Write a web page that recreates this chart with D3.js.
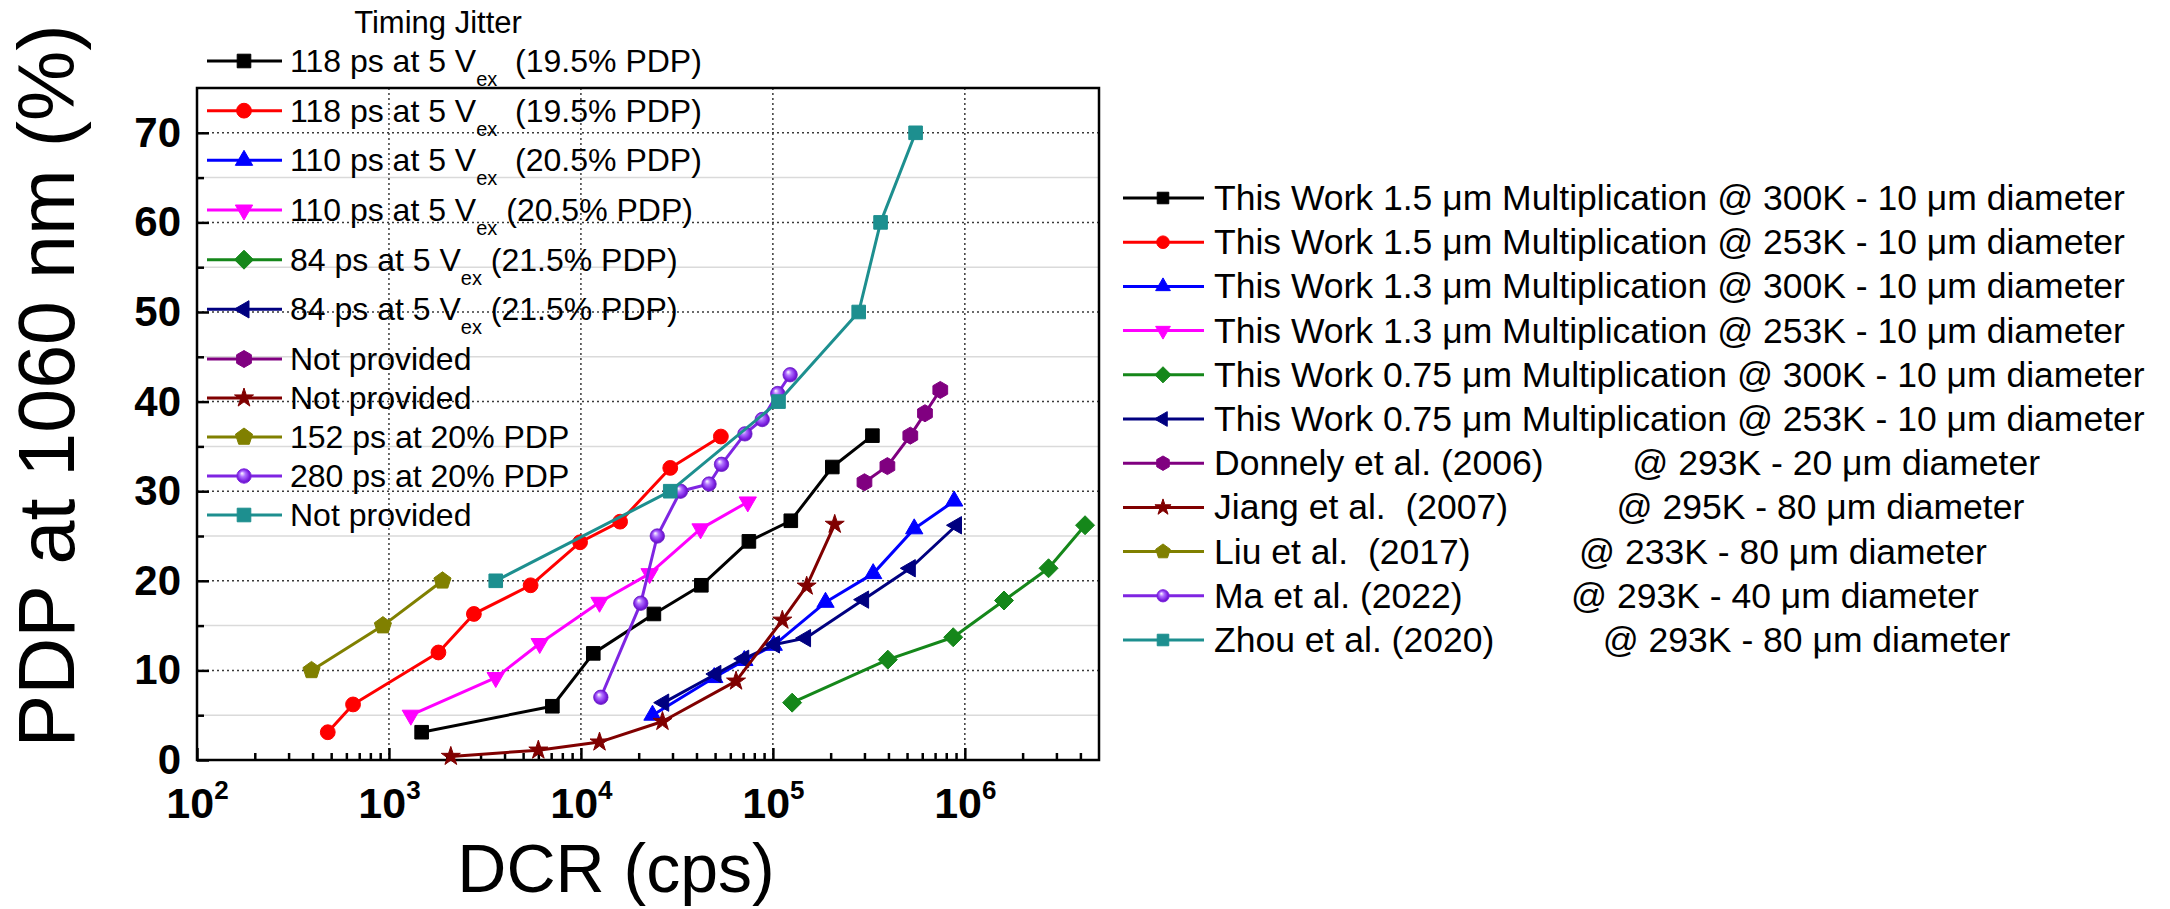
<!DOCTYPE html>
<html>
<head>
<meta charset="utf-8">
<script src="https://cdn.jsdelivr.net/npm/d3@7"></script>
<style>
  html, body { margin: 0; padding: 0; background: #fff; }
  svg { display: block; font-family: "Liberation Sans", Arial, Helvetica, sans-serif; }
  text { white-space: pre; }
</style>
</head>
<body>
<svg id="chart" width="2170" height="909"></svg>
<script>
// ---- Data: [DCR (cps), PDP at 1060 nm (%)] ----
const work15_300K = [[1480, 3.1], [7100, 6.0], [11600, 11.9], [24000, 16.3], [42400, 19.5], [75000, 24.4], [124000, 26.7], [204000, 32.7], [330000, 36.2]];
const work15_253K = [[480, 3.1], [650, 6.2], [1810, 12.0], [2770, 16.3], [5470, 19.5], [9900, 24.3], [16000, 26.6], [29200, 32.6], [53600, 36.1]];
const work13_300K = [[23600, 5.0], [49500, 9.2], [71000, 11.1], [101000, 12.8], [188000, 17.6], [333000, 20.8], [545000, 25.8], [880000, 28.9]];
const work13_253K = [[1300, 5.0], [3600, 9.2], [6100, 13.0], [12500, 17.6], [22800, 20.8], [42000, 25.8], [74000, 28.8]];
const work075_300K = [[126000, 6.4], [397000, 11.2], [870000, 13.7], [1600000, 17.8], [2730000, 21.4], [4230000, 26.2]];
const work075_253K = [[27000, 6.4], [50500, 9.6], [70500, 11.3], [102000, 12.9], [148000, 13.6], [297000, 17.9], [520000, 21.4], [905000, 26.2]];
const donnely2006 = [[300000, 31.0], [395000, 32.8], [520000, 36.2], [620000, 38.7], [745000, 41.3]];
const jiang2007 = [[2100, 0.4], [6000, 1.1], [12500, 2.0], [26600, 4.3], [64300, 8.8], [112000, 15.6], [150000, 19.4], [210000, 26.3]];
const liu2017 = [[395, 10.0], [930, 15.0], [1900, 20.0]];
const ma2022 = [[12700, 7.0], [20500, 17.5], [25000, 25.0], [33000, 30.0], [46500, 30.8], [54000, 33.0], [71500, 36.4], [88000, 38.0], [106000, 40.9], [123000, 43.0]];
const zhou2020 = [[3600, 20.0], [29200, 30.0], [107000, 40.0], [280000, 50.0], [364000, 60.0], [554000, 70.0]];

// Device / reference names (right-hand legend)
const deviceNames = [
  "This Work 1.5 \u03bcm Multiplication @ 300K - 10 \u03bcm diameter",
  "This Work 1.5 \u03bcm Multiplication @ 253K - 10 \u03bcm diameter",
  "This Work 1.3 \u03bcm Multiplication @ 300K - 10 \u03bcm diameter",
  "This Work 1.3 \u03bcm Multiplication @ 253K - 10 \u03bcm diameter",
  "This Work 0.75 \u03bcm Multiplication @ 300K - 10 \u03bcm diameter",
  "This Work 0.75 \u03bcm Multiplication @ 253K - 10 \u03bcm diameter",
  "Donnely et al. (2006)         @ 293K - 20 \u03bcm diameter",
  "Jiang et al.  (2007)           @ 295K - 80 \u03bcm diameter",
  "Liu et al.  (2017)           @ 233K - 80 \u03bcm diameter",
  "Ma et al. (2022)           @ 293K - 40 \u03bcm diameter",
  "Zhou et al. (2020)           @ 293K - 80 \u03bcm diameter"
];

// Timing jitter labels (left legend); [text, subscript, text after subscript]
const jitterLabels = [
  ["118 ps at 5 V", "ex", "  (19.5% PDP)"],
  ["118 ps at 5 V", "ex", "  (19.5% PDP)"],
  ["110 ps at 5 V", "ex", "  (20.5% PDP)"],
  ["110 ps at 5 V", "ex", " (20.5% PDP)"],
  ["84 ps at 5 V", "ex", " (21.5% PDP)"],
  ["84 ps at 5 V", "ex", " (21.5% PDP)"],
  ["Not provided"],
  ["Not provided"],
  ["152 ps at 20% PDP"],
  ["280 ps at 20% PDP"],
  ["Not provided"]
];

const xTickValues = [1e2, 1e3, 1e4, 1e5, 1e6];
const yTickValues = [0, 10, 20, 30, 40, 50, 60, 70];
const yMinorValues = [5, 15, 25, 35, 45, 55, 65];

// ---- Styles ----
const seriesData = [work15_300K, work15_253K, work13_300K, work13_253K, work075_300K, work075_253K,
                    donnely2006, jiang2007, liu2017, ma2022, zhou2020];
const seriesColors = ["#000000", "#ff0000", "#0000ff", "#ff00ff", "#15871a", "#000080",
                      "#800080", "#800000", "#808000", "#7f25e2", "#1d8f8f"];
const seriesMarkers = ["square", "circle", "triUp", "triDown", "diamond", "triLeft",
                       "hexagon", "star", "pentagon", "ball", "square"];

const svg = d3.select("#chart");
const W = 2170, H = 909;
svg.append("rect").attr("width", W).attr("height", H).attr("fill", "#fff");

const defs = svg.append("defs");
const grad = defs.append("radialGradient").attr("id", "ballGrad")
  .attr("cx", "50%").attr("cy", "50%").attr("r", "55%").attr("fx", "35%").attr("fy", "30%");
grad.append("stop").attr("offset", "0%").attr("stop-color", "#ffffff");
grad.append("stop").attr("offset", "35%").attr("stop-color", "#b070ff");
grad.append("stop").attr("offset", "75%").attr("stop-color", "#7a1fe0");
grad.append("stop").attr("offset", "100%").attr("stop-color", "#5a10b0");

const pL = 197, pR = 1099, pT = 88, pB = 760;
const x = d3.scaleLog().domain([1e2, 5e6]).range([pL, pR]);
const y = d3.scaleLinear().domain([0, 75]).range([pB, pT]);

// ---- Grid ----
const grid = svg.append("g");
grid.selectAll("line.minor").data(yMinorValues).join("line")
  .attr("x1", pL).attr("x2", pR).attr("y1", d => y(d)).attr("y2", d => y(d))
  .attr("stroke", "#dadada").attr("stroke-width", 1.5);
grid.selectAll("line.hmaj").data(yTickValues.filter(d => d > 0)).join("line")
  .attr("x1", pL).attr("x2", pR).attr("y1", d => y(d)).attr("y2", d => y(d))
  .attr("stroke", "#3a3a3a").attr("stroke-width", 1.5).attr("stroke-dasharray", "2,3");
grid.selectAll("line.vmaj").data(xTickValues.filter(d => d > 1e2)).join("line")
  .attr("x1", d => x(d)).attr("x2", d => x(d)).attr("y1", pT).attr("y2", pB)
  .attr("stroke", "#3a3a3a").attr("stroke-width", 1.5).attr("stroke-dasharray", "2,3");

// ---- Axes (ticks point inward) ----
const xMinor = [];
for (let e = 2; e <= 6; e++) for (let m = 2; m <= 9; m++) {
  const v = m * Math.pow(10, e);
  if (v < 5e6) xMinor.push(v);
}

const yAxisG = svg.append("g").attr("transform", `translate(${pL},0)`)
  .call(d3.axisLeft(y).tickValues(yTickValues).tickSizeInner(-12).tickSizeOuter(0)
        .tickPadding(16).tickFormat(d3.format("d")));
yAxisG.select(".domain").remove();
yAxisG.selectAll(".tick line").attr("stroke", "#000").attr("stroke-width", 2.5);
yAxisG.selectAll(".tick text").attr("font-size", 42).attr("font-weight", "bold").attr("fill", "#000")
  .attr("font-family", "'Liberation Sans', Arial, sans-serif");

const yMinorG = svg.append("g").attr("transform", `translate(${pL},0)`)
  .call(d3.axisLeft(y).tickValues(yMinorValues).tickSizeInner(-7).tickSizeOuter(0).tickFormat(""));
yMinorG.select(".domain").remove();
yMinorG.selectAll(".tick line").attr("stroke", "#000").attr("stroke-width", 2.5);

const xAxisG = svg.append("g").attr("transform", `translate(0,${pB})`)
  .call(d3.axisBottom(x).tickValues(xTickValues).tickSizeInner(-12).tickSizeOuter(0).tickPadding(27));
xAxisG.select(".domain").remove();
xAxisG.selectAll(".tick line").attr("stroke", "#000").attr("stroke-width", 2.5);
xAxisG.selectAll(".tick text")
  .attr("font-size", 43).attr("font-weight", "bold").attr("fill", "#000")
  .attr("font-family", "'Liberation Sans', Arial, sans-serif")
  .each(function (d) {
    const t = d3.select(this);
    t.text(null);
    t.append("tspan").text("10");
    t.append("tspan").attr("dy", -19).attr("font-size", 26).text(String(Math.round(Math.log10(d))));
  });

const xMinorG = svg.append("g").attr("transform", `translate(0,${pB})`)
  .call(d3.axisBottom(x).tickValues(xMinor).tickSizeInner(-7).tickSizeOuter(0).tickFormat(""));
xMinorG.select(".domain").remove();
xMinorG.selectAll(".tick line").attr("stroke", "#000").attr("stroke-width", 2.5);

// Frame
svg.append("rect").attr("x", pL).attr("y", pT).attr("width", pR - pL).attr("height", pB - pT)
  .attr("fill", "none").attr("stroke", "#000").attr("stroke-width", 2.5);

// ---- Marker shapes ----
function poly(n, R, startDeg) {
  const pts = d3.range(n).map(k => {
    const a = (startDeg + k * 360 / n) * Math.PI / 180;
    return [R * Math.cos(a), R * Math.sin(a)];
  });
  return "M" + pts.map(p => p[0].toFixed(2) + "," + p[1].toFixed(2)).join("L") + "Z";
}
function markerPath(kind, s) {
  s = s || 1;
  switch (kind) {
    case "square": return `M${-6.8 * s},${-6.8 * s}h${13.6 * s}v${13.6 * s}h${-13.6 * s}z`;
    case "circle": return d3.symbol(d3.symbolCircle, Math.PI * 7.4 * 7.4 * s * s)();
    case "ball": return d3.symbol(d3.symbolCircle, Math.PI * 7.2 * 7.2 * s * s)();
    case "triUp": return poly(3, 10 * s, -90);
    case "triDown": return poly(3, 10 * s, 90);
    case "triLeft": return poly(3, 10 * s, 180);
    case "diamond": return poly(4, 9.5 * s, -90);
    case "hexagon": return poly(6, 8.5 * s, -90);
    case "pentagon": return poly(5, 9 * s, -90);
    case "star": return d3.symbol(d3.symbolStar, 112 * s * s)();
  }
}
function markerFill(kind, color) { return kind === "ball" ? "url(#ballGrad)" : color; }

// ---- Series ----
const line = d3.line().x(d => x(d[0])).y(d => y(d[1]));
const plot = svg.append("g");
seriesData.forEach((data, i) => {
  const g = plot.append("g");
  g.append("path").datum(data).attr("d", line)
    .attr("fill", "none").attr("stroke", seriesColors[i]).attr("stroke-width", 3)
    .attr("stroke-linejoin", "round");
  g.selectAll("path.m").data(data).join("path")
    .attr("transform", d => `translate(${x(d[0])},${y(d[1])})`)
    .attr("d", markerPath(seriesMarkers[i]))
    .attr("fill", markerFill(seriesMarkers[i], seriesColors[i]))
    .attr("stroke", seriesMarkers[i] === "ball" ? "#6a18c8" : seriesColors[i])
    .attr("stroke-width", seriesMarkers[i] === "ball" ? 0.8 : 1);
});

// ---- Left legend: timing jitter ----
const legL = svg.append("g");
legL.append("text").attr("x", 438).attr("y", 33).attr("text-anchor", "middle")
  .attr("font-size", 31).attr("fill", "#000").text("Timing Jitter");
jitterLabels.forEach((lab, i) => {
  const yy = i <= 6 ? 61 + i * 49.67 : 359 + (i - 6) * 39;
  const g = legL.append("g");
  g.append("line").attr("x1", 207).attr("x2", 282).attr("y1", yy).attr("y2", yy)
    .attr("stroke", seriesColors[i]).attr("stroke-width", 3);
  g.append("path").attr("transform", `translate(244,${yy})`).attr("d", markerPath(seriesMarkers[i]))
    .attr("fill", markerFill(seriesMarkers[i], seriesColors[i])).attr("stroke", seriesColors[i]).attr("stroke-width", 1);
  const t = g.append("text").attr("x", 290).attr("y", yy + 11).attr("font-size", 32).attr("fill", "#000");
  t.append("tspan").text(lab[0]);
  if (lab.length > 1) {
    t.append("tspan").attr("dy", 14).attr("font-size", 20).text(lab[1]);
    t.append("tspan").attr("dy", -14).text(lab[2]);
  }
});

// ---- Right legend: devices ----
const legR = svg.append("g");
deviceNames.forEach((name, i) => {
  const yy = 198 + i * 44.2;
  const g = legR.append("g");
  g.append("line").attr("x1", 1123).attr("x2", 1204).attr("y1", yy).attr("y2", yy)
    .attr("stroke", seriesColors[i]).attr("stroke-width", 3);
  g.append("path").attr("transform", `translate(1163,${yy})`).attr("d", markerPath(seriesMarkers[i], 0.85))
    .attr("fill", markerFill(seriesMarkers[i], seriesColors[i])).attr("stroke", seriesColors[i]).attr("stroke-width", 1);
  g.append("text").attr("x", 1214).attr("y", yy + 12).attr("font-size", 35.5).attr("fill", "#000")
    .attr("xml:space", "preserve").text(name);
});

// ---- Axis titles ----
svg.append("text").attr("transform", "translate(74,386) rotate(-90)").attr("text-anchor", "middle")
  .attr("font-size", 79).attr("fill", "#000").text("PDP at 1060 nm (%)");
svg.append("text").attr("x", 616).attr("y", 892).attr("text-anchor", "middle")
  .attr("font-size", 68).attr("fill", "#000").text("DCR (cps)");
</script>
</body>
</html>
